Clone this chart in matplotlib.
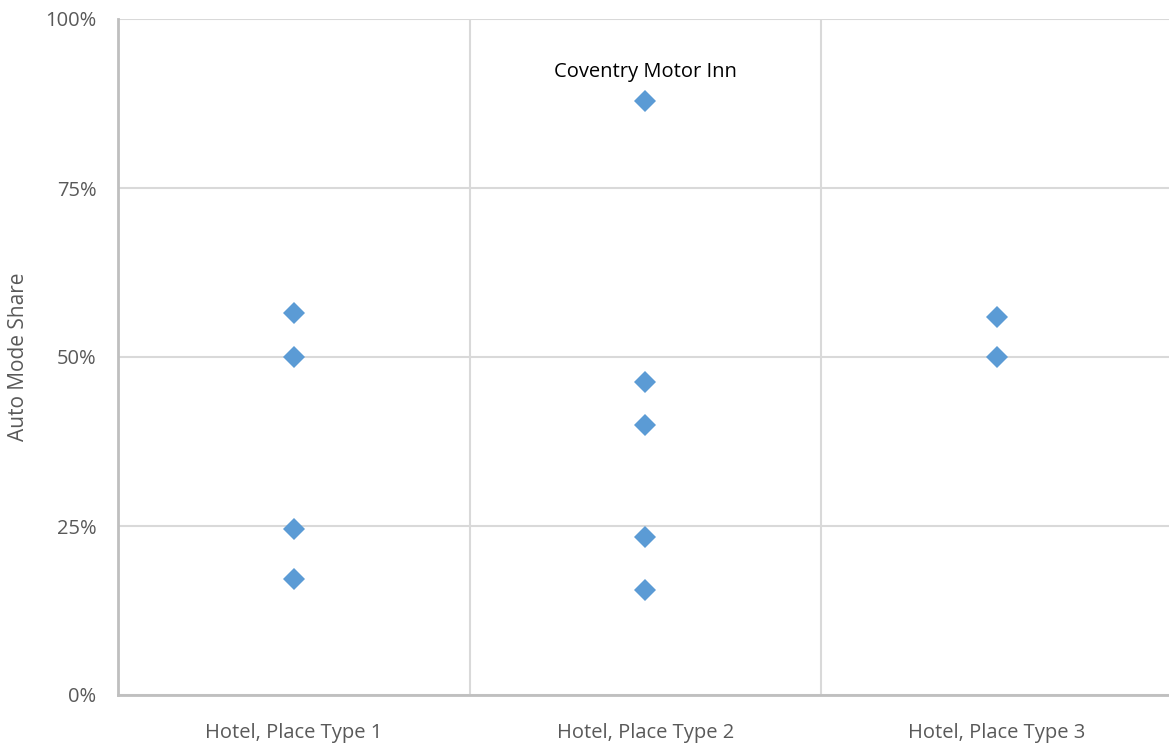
import matplotlib
matplotlib.use("Agg")
import matplotlib.pyplot as plt
from matplotlib.ticker import FixedLocator, PercentFormatter

plt.rcParams['font.family'] = ['Open Sans', 'DejaVu Sans']

categories = ["Hotel, Place Type 1", "Hotel, Place Type 2", "Hotel, Place Type 3"]
type1_share = [56.5, 50.0, 24.6, 17.2]
type2_share = [87.9, 46.3, 39.9, 23.3, 15.6]
type3_share = [55.9, 50.0]
series = [type1_share, type2_share, type3_share]
y_ticks = [0, 25, 50, 75, 100]
outlier_label = "Coventry Motor Inn"

W, H = 1169, 747
fig = plt.figure(figsize=(W / 100, H / 100), dpi=100)
ax = fig.add_axes([118 / W, 1 - 695 / H, 1054.5 / W, (695 - 19) / H])

marker_color = "#5b9bd5"
for i, vals in enumerate(series):
    ax.plot([i + 1] * len(vals), vals, linestyle="none", marker="D",
            markersize=11.5, color=marker_color, markeredgewidth=0, zorder=3,
            clip_on=False)

# label the highest point of the second category
top_val = max(type2_share)
ax.annotate(outlier_label, (2, top_val), xytext=(0, 21), textcoords="offset points",
            ha="center", va="center", fontsize=14.5, color="black")

ax.set_xlim(0.5, 3.5)
ax.set_ylim(0, 100)
ax.yaxis.set_major_locator(FixedLocator(y_ticks))
ax.yaxis.set_major_formatter(PercentFormatter(decimals=0))
ax.xaxis.set_major_locator(FixedLocator([1, 2, 3]))
ax.set_xticklabels(categories)
ax.xaxis.set_minor_locator(FixedLocator([1.5, 2.5]))

ax.grid(axis="y", which="major", color="#d9d9d9", linewidth=1.5)
ax.grid(axis="x", which="minor", color="#d9d9d9", linewidth=1.5)
ax.set_axisbelow(True)

for side in ["top", "right"]:
    ax.spines[side].set_visible(False)
for side in ["left", "bottom"]:
    ax.spines[side].set_color("#bfbfbf")
    ax.spines[side].set_linewidth(2)

ax.tick_params(axis="both", which="both", length=0, labelsize=14.5, labelcolor="#595959")
ax.tick_params(axis="x", pad=20)
ax.tick_params(axis="y", pad=15.5)

ax.set_ylabel("Auto Mode Share", fontsize=15, color="#595959", labelpad=12)

fig.savefig("out.png", dpi=100)
